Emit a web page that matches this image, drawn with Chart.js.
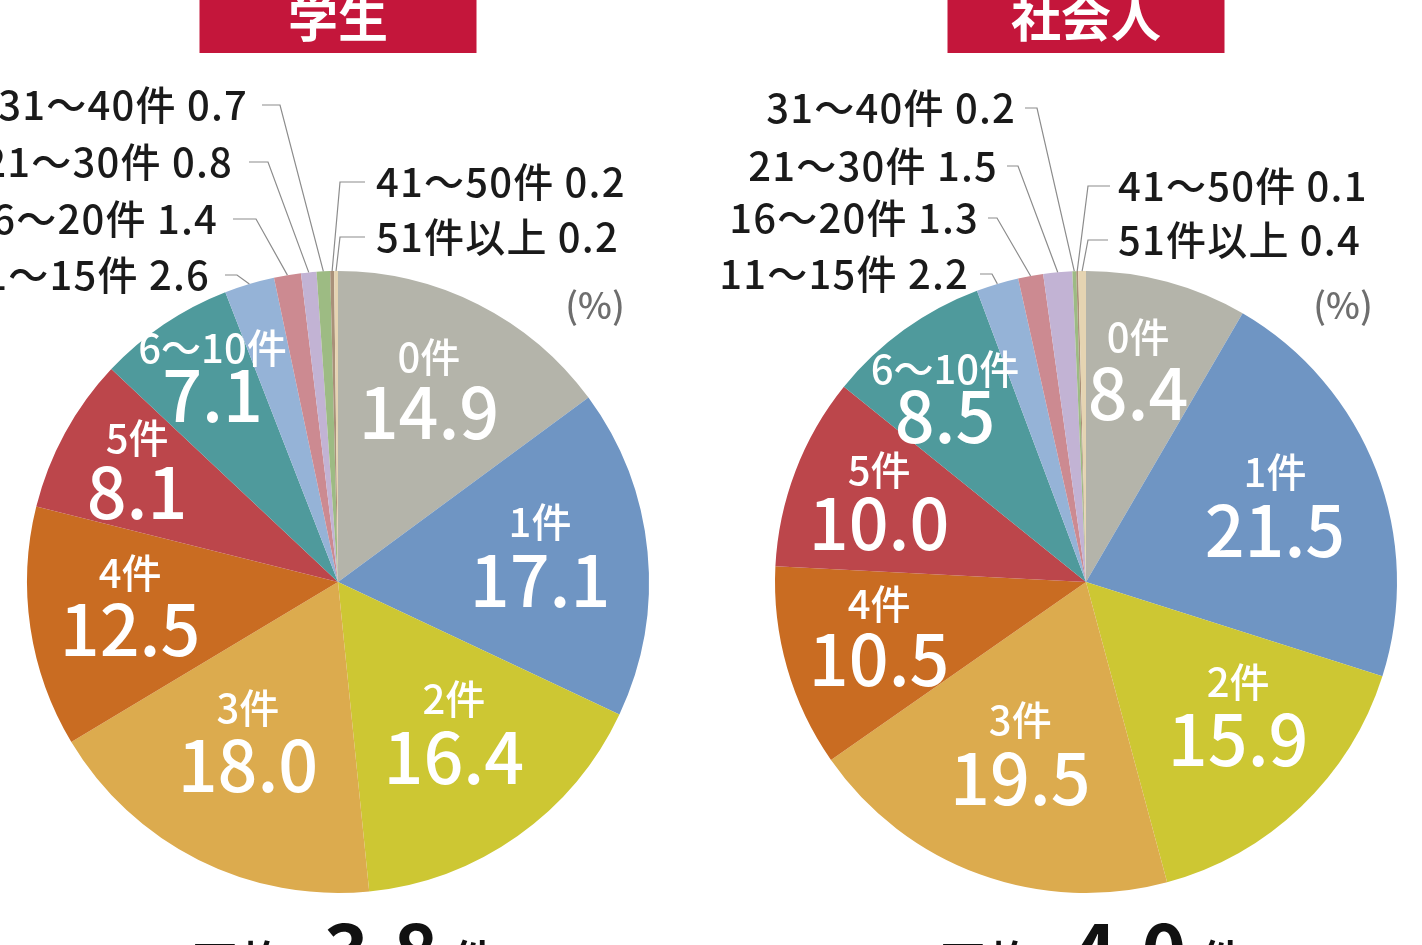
<!DOCTYPE html>
<html lang="ja">
<head>
<meta charset="utf-8">
<title>件数の分布</title>
<script src="https://cdn.jsdelivr.net/npm/chart.js@4.4.1/dist/chart.umd.min.js"></script>
<style>
    html, body { margin: 0; padding: 0; background: #ffffff; width: 1422px; height: 945px; overflow: hidden; }
    .pie-wrap { position: absolute; top: 0; width: 800px; height: 945px; }
    #studentWrap { left: -62px; }
    #workerWrap { left: 686px; }
</style>
</head>
<body>
<div class="pie-wrap" id="studentWrap"><canvas id="studentChart"></canvas></div>
<div class="pie-wrap" id="workerWrap"><canvas id="workerChart"></canvas></div>
<script>
// Data
const categories = ['0件', '1件', '2件', '3件', '4件', '5件', '6〜10件', '11〜15件', '16〜20件', '21〜30件', '31〜40件', '41〜50件', '51件以上'];
const studentValues = [14.9, 17.1, 16.4, 18.0, 12.5, 8.1, 7.1, 2.6, 1.4, 0.8, 0.7, 0.2, 0.2];
const workerValues = [8.4, 21.5, 15.9, 19.5, 10.5, 10.0, 8.5, 2.2, 1.3, 1.5, 0.2, 0.1, 0.4];
const chartTitles = ['学生', '社会人'];
const averageValues = ['3.8', '4.0'];
const unitLabel = '(%)';

// Styles
const sliceColors = ['#b4b4aa', '#6f95c3', '#cdc733', '#dcab4e', '#c96c22', '#bc464b', '#4f9a9c',
                     '#95b3d7', '#cc8a91', '#c2b3d4', '#9dbb83', '#a99079', '#e5d4b2'];
const FONT = '"Noto Sans CJK JP", "Noto Sans", sans-serif';

// inner labels: fraction of radius and angle nudge (deg) from the slice middle
const studentInner = [[0.669, -0.9], [0.653, -0.3], [0.625, -1.3], [0.604, 2], [0.675, 0.5], [0.732, -0.6], [0.761, 2]];
const workerInner = [[0.686, -1], [0.649, 0.5], [0.662, -3.9], [0.607, 0.4], [0.692, 0], [0.708, -0.9], [0.733, -2.4]];
const innerHalfGap = [28, 29, 29, 29, 28, 27, 24];
const innerLift = -10;

// outer labels: y of the row, text edge, line start, elbow (all relative to the pie centre)
const studentOuter = [
    { y: -307, edge: -128, start: -113, elbow: -101 },
    { y: -363, edge: -120, start: -105, elbow: -82 },
    { y: -420, edge: -105, start: -89, elbow: -70 },
    { y: -477, edge: -90, start: -76, elbow: -58 },
    { y: -400, edge: 38, start: 27, elbow: 2 },
    { y: -345, edge: 38, start: 27, elbow: 2 }
];
const workerOuter = [
    { y: -308, edge: -117, start: -106, elbow: -94 },
    { y: -364, edge: -107, start: -98, elbow: -89 },
    { y: -416, edge: -88, start: -79, elbow: -68 },
    { y: -474, edge: -70, start: -61, elbow: -49 },
    { y: -396, edge: 32, start: 24, elbow: 2 },
    { y: -342, edge: 32, start: 22, elbow: 2 }
];

const pieLabels = {
    id: 'pieLabels',
    afterDatasetsDraw(chart, args, opts) {
        const ctx = chart.ctx;
        const meta = chart.getDatasetMeta(0);
        const values = chart.data.datasets[0].data;
        const labels = chart.data.labels;
        const cx0 = meta.data[0].x;
        const cy0 = meta.data[0].y;
        ctx.save();

        meta.data.forEach(function(arc, i) {
            const p = arc.getProps(['x', 'y', 'startAngle', 'endAngle', 'outerRadius'], true);
            const mid = (p.startAngle + p.endAngle) / 2;
            const valueText = values[i].toFixed(1);

            if (i < opts.inner.length) {
                const r = p.outerRadius * opts.inner[i][0];
                const a = mid + opts.inner[i][1] * Math.PI / 180;
                const lx = p.x + Math.cos(a) * r;
                const ly = p.y + Math.sin(a) * r + innerLift;
                ctx.fillStyle = '#ffffff';
                ctx.textAlign = 'center';
                ctx.textBaseline = 'middle';
                ctx.font = '500 40px ' + FONT;
                ctx.fillText(labels[i], lx, ly - innerHalfGap[i]);
                ctx.font = '500 70px ' + FONT;
                ctx.fillText(valueText, lx, ly + innerHalfGap[i]);
            } else {
                const o = opts.outer[i - opts.inner.length];
                const ex = p.x + Math.cos(mid) * p.outerRadius;
                const ey = p.y + Math.sin(mid) * p.outerRadius;
                const ly = p.y + o.y;
                ctx.strokeStyle = '#8c8c8c';
                ctx.lineWidth = 1.2;
                ctx.beginPath();
                ctx.moveTo(p.x + o.start, ly);
                ctx.lineTo(p.x + o.elbow, ly);
                ctx.lineTo(ex, ey);
                ctx.stroke();

                ctx.fillStyle = '#1a1a1a';
                ctx.font = '500 40px ' + FONT;
                ctx.letterSpacing = '1.2px';
                ctx.textBaseline = 'middle';
                ctx.textAlign = o.edge < 0 ? 'right' : 'left';
                ctx.fillText(labels[i] + ' ' + valueText, p.x + o.edge, ly);
                ctx.letterSpacing = '0px';
            }
        });

        // unit
        ctx.fillStyle = '#6e6e6e';
        ctx.font = '500 36px ' + FONT;
        ctx.textAlign = 'center';
        ctx.textBaseline = 'middle';
        ctx.fillText(unitLabel, cx0 + 257, cy0 - 277);

        // title box
        ctx.fillStyle = '#c4163b';
        ctx.fillRect(cx0 - 138.5, 0, 277, 53);
        ctx.fillStyle = '#ffffff';
        ctx.font = 'bold 50px ' + FONT;
        ctx.textBaseline = 'alphabetic';
        ctx.fillText(opts.title, cx0, 37);

        // average (cut off by the bottom edge)
        ctx.fillStyle = '#111111';
        ctx.textAlign = 'left';
        ctx.font = '500 50px ' + FONT;
        ctx.fillText('平均', cx0 - 148, 983);
        ctx.font = 'bold 76px ' + FONT;
        ctx.fillText(opts.average, cx0 - 14, 980);
        ctx.font = '500 50px ' + FONT;
        ctx.fillText('件', cx0 + 112, 982);

        ctx.restore();
    }
};

function makePie(canvasId, values, title, average, inner, outer) {
    return new Chart(document.getElementById(canvasId), {
        type: 'pie',
        data: {
            labels: categories,
            datasets: [{
                data: values,
                backgroundColor: sliceColors,
                borderWidth: 0,
                hoverOffset: 0
            }]
        },
        options: {
            responsive: true,
            maintainAspectRatio: false,
            animation: false,
            events: [],
            layout: {
                padding: { top: 271, bottom: 52, left: 89, right: 89 }
            },
            plugins: {
                legend: { display: false },
                tooltip: { enabled: false },
                pieLabels: { title: title, average: average, inner: inner, outer: outer }
            }
        },
        plugins: [pieLabels]
    });
}

makePie('studentChart', studentValues, chartTitles[0], averageValues[0], studentInner, studentOuter);
makePie('workerChart', workerValues, chartTitles[1], averageValues[1], workerInner, workerOuter);
</script>
</body>
</html>
